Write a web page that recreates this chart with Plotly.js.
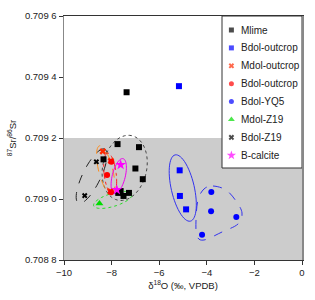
<!DOCTYPE html>
<html><head><meta charset="utf-8">
<script src="https://cdn.plot.ly/plotly-3.0.1.min.js"></script>
<style>html,body{margin:0;padding:0;background:#fff;}#c{width:315px;height:300px;}</style>
</head><body><div id="c"></div>
<script>
// ---- data ----
const seriesNames = ["Mlime","Bdol-outcrop","Mdol-outcrop","Bdol-outcrop","Bdol-YQ5","Mdol-Z19","Bdol-Z19","B-calcite"];
const mlimeX = [-7.37,-7.75,-6.85,-8.34,-7.00,-6.69,-7.72,-7.62,-7.50,-7.27];
const mlimeY = [0.70935,0.70918,0.70917,0.70913,0.70910,0.709065,0.70902,0.709026,0.70901,0.70902];
const bdolOutBlueX = [-5.17,-5.14,-5.13,-4.87];
const bdolOutBlueY = [0.70937,0.709094,0.70901,0.708966];
const mdolOutX = [-8.37,-8.03,-8.05];
const mdolOutY = [0.709156,0.709125,0.709025];
const bdolOutRedX = [-8.01,-8.19,-8.02];
const bdolOutRedY = [0.709122,0.709079,0.709022];
const yq5X = [-3.81,-3.82,-2.76,-4.20];
const yq5Y = [0.709023,0.70896,0.708941,0.708883];
const mdolZ19X = [-8.51];
const mdolZ19Y = [0.708985];
const bdolZ19X = [-8.64,-9.13];
const bdolZ19Y = [0.709122,0.709011];
const bcalX = [-7.62,-7.78];
const bcalY = [0.709112,0.709030];
const xTicks = [-10,-8,-6,-4,-2,0];
const yTicks = [0.7088,0.7090,0.7092,0.7094,0.7096];
const yTickText = ["0.708 8","0.709 0","0.709 2","0.709 4","0.709 6"];

// ---- styles ----
const xRange=[-10,0], yRange=[0.7088,0.7096];
const M={l:64,r:13,t:16,b:40};
const W=315,H=300, PW=W-M.l-M.r, PH=H-M.t-M.b;
const pxX=PW/(xRange[1]-xRange[0]), pxY=PH/(yRange[1]-yRange[0]);
const styles=[
 {sym:"square",color:"#000000",size:6,lsize:5},
 {sym:"square",color:"#0000ff",size:6,lsize:5},
 {sym:"x",color:"#ff2a00",size:6,lsize:5},
 {sym:"circle",color:"#ff0000",size:6,lsize:5},
 {sym:"circle",color:"#0000ff",size:6,lsize:5},
 {sym:"triangle-up",color:"#00dd00",size:7,lsize:6},
 {sym:"x",color:"#000000",size:5,lsize:5},
 {sym:"star",color:"#ff00ff",size:8,lsize:7}
];
const xs=[mlimeX,bdolOutBlueX,mdolOutX,bdolOutRedX,yq5X,mdolZ19X,bdolZ19X,bcalX];
const ys=[mlimeY,bdolOutBlueY,mdolOutY,bdolOutRedY,yq5Y,mdolZ19Y,bdolZ19Y,bcalY];

const traces=xs.map((x,i)=>({type:"scatter",mode:"markers",x:x,y:ys[i],name:seriesNames[i],showlegend:false,hoverinfo:"skip",
  marker:{symbol:styles[i].sym,color:styles[i].color,size:styles[i].size,line:{width:0}}}));

// custom legend (pixel axes)
const legX0=158, legItemX=167.4, legTextX=174.5, legY0=14, legDy=17.9, legH=152;
traces.push({type:"scatter",mode:"markers",xaxis:"x2",yaxis:"y2",showlegend:false,hoverinfo:"skip",
  x:seriesNames.map(()=>legItemX), y:seriesNames.map((n,i)=>legY0+legDy*i),
  marker:{symbol:styles.map(s=>s.sym),color:styles.map(s=>s.color),size:styles.map(s=>s.lsize),line:{width:0}}});
const annotations=seriesNames.map((n,i)=>({xref:"x2",yref:"y2",x:legTextX,y:legY0+legDy*i,text:n,showarrow:false,xanchor:"left",yanchor:"middle",
  font:{family:"Liberation Sans, Arial, sans-serif",size:10,color:"#222"}}));

// group contours (decoration): centre in data units, semi-axes in px, angle in deg
const contours=[
 {cx:-7.45,cy:0.709102,a:33,b:22,ang:78,color:"#444444",dash:"dot"},
 {cx:-8.84,cy:0.709075,a:30,b:9,ang:64,color:"#222222",dash:"dash"},
 {cx:-8.25,cy:0.709095,a:25,b:7,ang:104,color:"#ff8c1a",dash:"dash"},
 {cx:-8.06,cy:0.709082,a:21,b:6,ang:97,color:"#ff2020",dash:"dashdot"},
 {cx:-7.70,cy:0.709075,a:18,b:6.5,ang:76,color:"#ee00ee",dash:"solid"},
 {cx:-7.95,cy:0.708997,a:20,b:6.5,ang:17,color:"#22dd22",dash:"dot"},
 {cx:-5.01,cy:0.709036,a:34,b:11.5,ang:103,color:"#3333ee",dash:"solid"}
];
function ellipsePath(c){
  const th=c.ang*Math.PI/180; let p="";
  for(let k=0;k<=60;k++){const t=2*Math.PI*k/60;
    const dx=c.a*Math.cos(t)*Math.cos(th)-c.b*Math.sin(t)*Math.sin(th);
    const dy=c.a*Math.cos(t)*Math.sin(th)+c.b*Math.sin(t)*Math.cos(th);
    p+=(k?" L":"M")+(c.cx+dx/pxX).toFixed(4)+","+(c.cy+dy/pxY).toFixed(7);}
  return p+" Z";
}
// rounded triangle around Bdol-YQ5 (px outline points -> smooth closed path)
const triPx=[[213,186],[226,190],[236,201],[242,213],[238,224],[222,232],[204,240],[197,236],[196,220],[198,200],[204,189]];
function toData(p){return [xRange[0]+(p[0]-M.l)/pxX, yRange[0]+(M.t+PH-p[1])/pxY];}
function smoothClosed(pts){
  const d=pts.map(toData), n=d.length; let s="M"+d[0][0]+","+d[0][1];
  for(let i=0;i<n;i++){const p0=d[(i-1+n)%n],p1=d[i],p2=d[(i+1)%n],p3=d[(i+2)%n];
    const c1=[p1[0]+(p2[0]-p0[0])/6,p1[1]+(p2[1]-p0[1])/6], c2=[p2[0]-(p3[0]-p1[0])/6,p2[1]-(p3[1]-p1[1])/6];
    s+=" C"+c1[0]+","+c1[1]+" "+c2[0]+","+c2[1]+" "+p2[0]+","+p2[1];}
  return s+" Z";
}
const shapes=[
 {type:"rect",xref:"x",yref:"y",x0:xRange[0],x1:xRange[1],y0:yRange[0],y1:0.7092,fillcolor:"#cccccc",line:{width:0},layer:"below"},
 {type:"rect",xref:"x",yref:"y",x0:xRange[0]+legX0/pxX,x1:xRange[1],y0:yRange[1]-legH/pxY,y1:yRange[1],fillcolor:"#ffffff",line:{color:"#333",width:1},layer:"below"}
];
contours.forEach(c=>shapes.push({type:"path",xref:"x",yref:"y",path:ellipsePath(c),line:{color:c.color,width:1,dash:c.dash},layer:"below"}));
shapes.push({type:"path",xref:"x",yref:"y",path:smoothClosed(triPx),line:{color:"#3333ee",width:1,dash:"dash"},layer:"below"});

const font={family:"Liberation Sans, Arial, sans-serif",size:9.5,color:"#222"};
const layout={
  width:W,height:H,margin:M,paper_bgcolor:"#fff",plot_bgcolor:"#fff",showlegend:false,font:font,
  xaxis:{range:xRange,tickvals:xTicks,ticks:"outside",ticklen:4,tickcolor:"#333",showgrid:false,zeroline:false,
    showline:true,linecolor:"#333",linewidth:1,mirror:true,tickfont:font,
    title:{text:"δ<sup>18</sup>O (‰, VPDB)",font:font,standoff:4}},
  yaxis:{range:yRange,tickvals:yTicks,ticktext:yTickText,ticks:"outside",ticklen:4,tickcolor:"#333",showgrid:false,zeroline:false,
    showline:true,linecolor:"#888",linewidth:1.5,mirror:true,tickfont:font,
    title:{text:"<sup>87</sup>Sr/<sup>86</sup>Sr",font:font,standoff:6}},
  xaxis2:{overlaying:"x",range:[0,PW],visible:false,fixedrange:true},
  yaxis2:{overlaying:"y",range:[PH,0],visible:false,fixedrange:true},
  shapes:shapes,annotations:annotations
};
Plotly.newPlot("c",traces,layout,{staticPlot:true,displayModeBar:false});
</script></body></html>
